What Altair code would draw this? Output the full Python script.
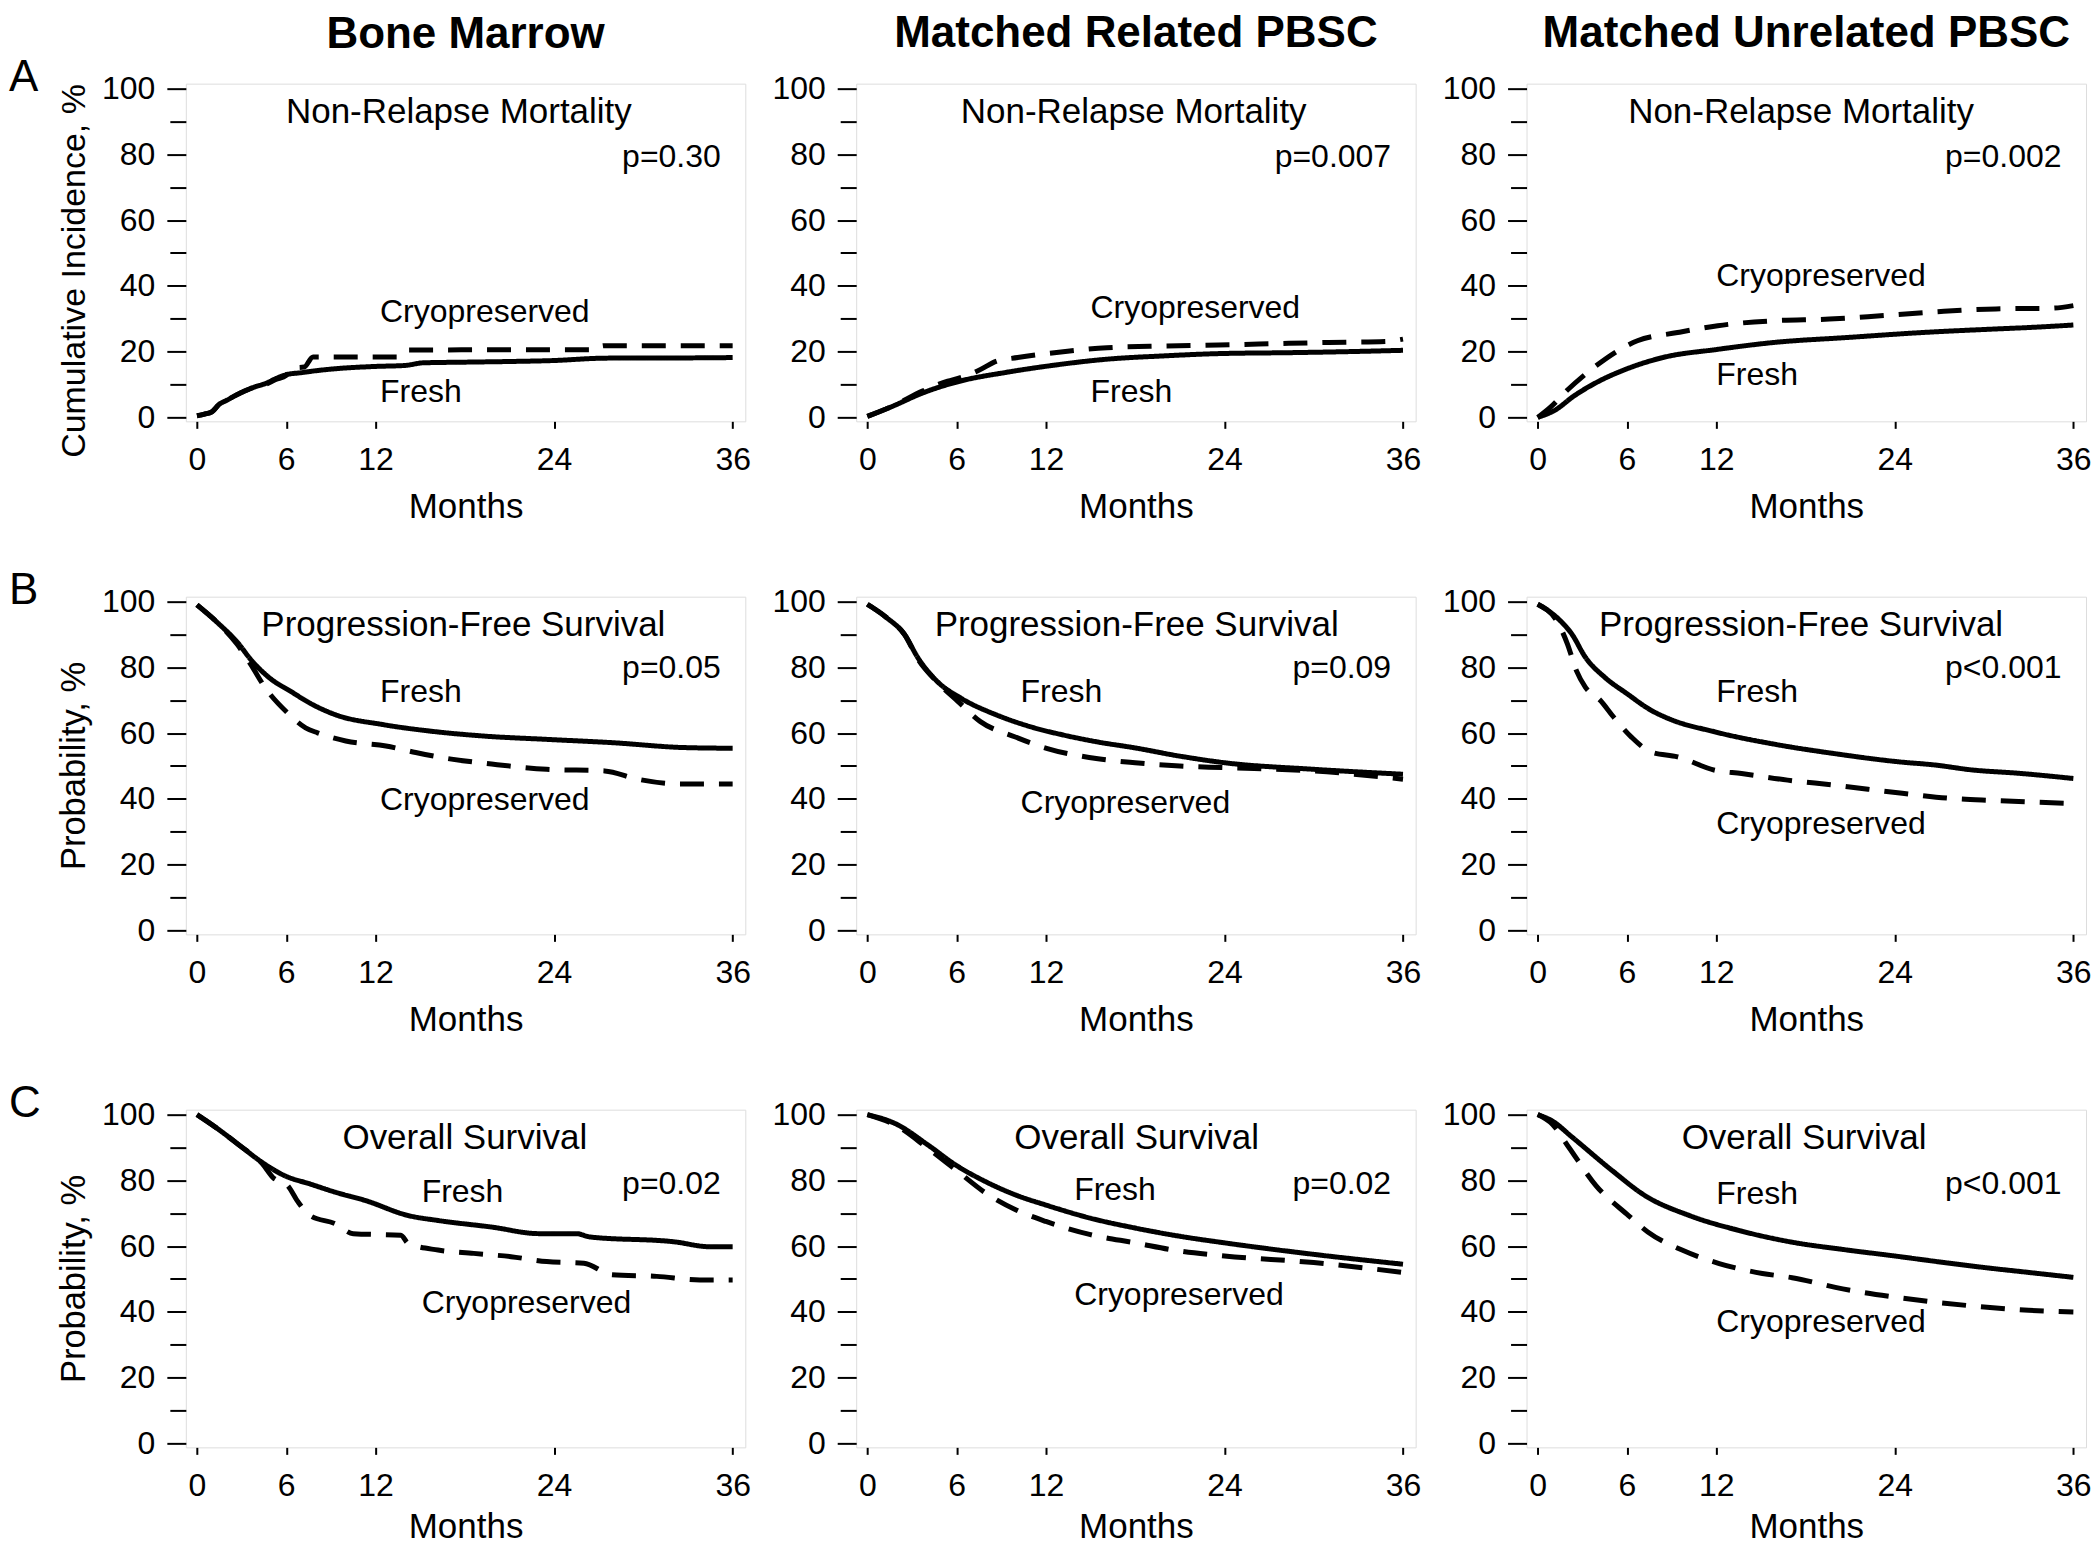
import altair as alt
import pandas as pd

FONT = "Liberation Sans"

COLUMN_TITLES = ["Bone Marrow", "Matched Related PBSC", "Matched Unrelated PBSC"]
ROW_LETTERS = ["A", "B", "C"]
ENDPOINTS = ["Non-Relapse Mortality", "Progression-Free Survival", "Overall Survival"]
Y_TITLES = ["Cumulative Incidence, %", "Probability, %", "Probability, %"]
P_VALUES = [["p=0.30", "p=0.007", "p=0.002"],
            ["p=0.05", "p=0.09", "p<0.001"],
            ["p=0.02", "p=0.02", "p<0.001"]]
GROUPS = ["Fresh", "Cryopreserved"]
X_TICKS = [0, 6, 12, 24, 36]
Y_TICKS = [0, 10, 20, 30, 40, 50, 60, 70, 80, 90, 100]

# ---- curves (months, percent) ----
# Row A: non-relapse mortality (cumulative incidence)
A1_FRESH_M = [0, 0.5, 1, 1.5, 2, 2.6, 3.2, 3.9, 4.6, 5.3, 6, 7, 8, 9.3, 12, 14, 15.2, 18, 21, 24, 27.2, 30, 33, 36]
A1_FRESH_V = [0.5, 1, 1.7, 4, 5.2, 6.7, 8, 9.3, 10.3, 11.8, 13, 13.6, 14.2, 14.8, 15.5, 15.8, 16.6, 16.8, 17, 17.3, 18, 18.1, 18.1, 18.2]
A1_CRYO_M = [0, 0.5, 1, 1.5, 2, 2.6, 3.2, 3.9, 4.6, 5.3, 6, 6.3, 7.2, 7.8, 13.6, 14.2, 26.8, 27.3, 36]
A1_CRYO_V = [0.5, 1, 1.7, 4, 5.2, 6.7, 8, 9.3, 10, 11.5, 12.8, 15, 15.3, 18.4, 18.4, 20.5, 20.6, 21.8, 21.8]

A2_FRESH_M = [0, 1.7, 3.7, 6.2, 9.2, 12.1, 16.1, 19.9, 23.6, 28.6, 32.3, 36]
A2_FRESH_V = [0.3, 3.4, 7.4, 11, 13.6, 15.6, 17.7, 18.7, 19.4, 19.7, 20, 20.4]
A2_CRYO_M = [0, 1.7, 3.7, 5.4, 6.2, 7.4, 8.7, 10.1, 13.6, 16.1, 19.9, 23.6, 27.3, 31, 34.8, 36]
A2_CRYO_V = [0.3, 3.4, 8, 11, 12, 14.1, 17.1, 18.2, 20.2, 21.2, 21.7, 22, 22.4, 22.8, 23.1, 23.8]

A3_FRESH_M = [0, 1.2, 2.4, 3.9, 5.9, 8.4, 12.1, 15.9, 20.8, 25.8, 30.8, 33.3, 36]
A3_FRESH_V = [0, 2.3, 6.4, 10.5, 14.6, 18.2, 20.7, 22.8, 24.3, 25.8, 26.9, 27.4, 28.1]
A3_CRYO_M = [0, 0.9, 1.9, 3.9, 6.7, 9.4, 12.1, 15.9, 19.6, 23.3, 27.1, 30.8, 34.5, 36]
A3_CRYO_V = [0, 3.3, 7.9, 15.6, 23.3, 25.8, 27.9, 29.4, 29.9, 31, 32.2, 33, 33.2, 34]

# Row B: progression-free survival
B1_FRESH_M = [0, 1.45, 2.7, 3.65, 4.9, 6.3, 7.6, 9.3, 12.5, 15.7, 19.3, 23.5, 27.9, 32.8, 36]
B1_FRESH_V = [99, 93.3, 87.7, 82.2, 76.7, 72.7, 69.1, 65.6, 62.6, 60.6, 59.1, 58.1, 57.1, 55.6, 55.4]
B1_CRYO_M = [0, 1.45, 2.7, 3.6, 4.6, 6.1, 7.3, 8.1, 10, 12.7, 14.7, 17.1, 19.8, 23.5, 27.4, 29.6, 32.6, 36]
B1_CRYO_V = [99, 93.3, 87, 81, 73.7, 66.1, 61.6, 60.1, 57.6, 56.1, 54.1, 52.1, 50.6, 49, 48.5, 46, 44.5, 44.5]

B2_FRESH_M = [0, 1.3, 2.5, 3.4, 4.7, 6.3, 8.7, 11, 13.2, 15.5, 18, 21, 24, 30, 36]
B2_FRESH_V = [99.2, 95.1, 90, 82.9, 75.7, 70.6, 65.5, 61.9, 59.4, 57.3, 55.5, 53, 51, 49, 47.5]
B2_CRYO_M = [0, 1.3, 2.5, 3.4, 4.7, 6.1, 7.6, 9.9, 12.1, 15.5, 18, 21, 24, 30, 36]
B2_CRYO_V = [99.2, 95.1, 90, 82.5, 75.5, 69.6, 63.5, 58.9, 55.3, 52.2, 51, 50, 49.5, 48.5, 46]

B3_FRESH_M = [0, 1.4, 2.3, 3.2, 4.5, 6, 7.6, 8.8, 11.9, 16.2, 19.9, 24.2, 26.7, 29.2, 32.3, 36]
B3_FRESH_V = [99.2, 94.7, 90.1, 83.1, 77, 72, 67, 64.4, 60.4, 56.4, 53.8, 51.3, 50.3, 48.8, 47.8, 46.2]
B3_CRYO_M = [0, 1.4, 2, 2.6, 3.2, 4.2, 5.1, 6.3, 7.6, 9.4, 11.9, 13.7, 16.8, 19.9, 24.5, 27.6, 30.7, 36]
B3_CRYO_V = [99.2, 93.2, 87.1, 79, 74, 70, 64.9, 58.8, 54.3, 52.8, 48.7, 47.7, 45.7, 44.2, 41.7, 40.2, 39.5, 38.6]

# Row C: overall survival
C1_FRESH_M = [0, 1.45, 2.9, 4.4, 5.9, 7.6, 9.3, 11.3, 14.2, 16.2, 19.8, 23, 25.5, 26.4, 32.1, 34.5, 36]
C1_FRESH_V = [100, 95.5, 90.5, 85.4, 81.4, 78.9, 76.4, 73.9, 69.3, 67.8, 65.8, 63.8, 63.8, 62.8, 61.3, 59.8, 59.8]
C1_CRYO_M = [0, 1.45, 2.9, 4.4, 5.1, 6.1, 6.8, 7.6, 9.3, 10.5, 13.7, 14.2, 16.2, 18.6, 21.1, 23.5, 26, 27.9, 30.9, 33.8, 36]
C1_CRYO_V = [100, 95.5, 90.5, 85, 80.9, 78.4, 73.4, 69.3, 66.8, 63.8, 63.3, 60.8, 58.8, 57.8, 56.8, 55.3, 54.8, 51.3, 50.8, 49.7, 49.7]

C2_FRESH_M = [0, 2, 4, 6, 8, 10, 12, 15, 18, 21, 24, 30, 36]
C2_FRESH_V = [100, 97, 91, 84.5, 79.5, 75.5, 72.5, 68.5, 65.5, 63, 61, 57.5, 54.5]
C2_CRYO_M = [0, 2, 4, 6, 8, 10, 12, 15, 18, 21, 24, 30, 36]
C2_CRYO_V = [100, 96.5, 90, 83, 76, 71, 67.5, 63.5, 61, 58.5, 57, 55, 52]

C3_FRESH_M = [0, 1, 2.3, 5, 7.2, 10.2, 13.5, 17.1, 20.5, 24, 27, 30, 33, 36]
C3_FRESH_V = [100, 98, 93.2, 83, 75.4, 69.3, 64.8, 61.2, 59, 57, 55.2, 53.5, 52, 50.5]
C3_CRYO_M = [0, 1, 2.1, 3.9, 6.1, 7.4, 9.7, 12.2, 15.1, 17.1, 20.5, 24, 27, 30, 33, 36]
C3_CRYO_V = [100, 97, 90, 78.5, 69.3, 64.3, 58.8, 54.7, 51.7, 50.4, 47, 44.5, 42.8, 41.5, 40.5, 40]

CURVES = [
    [((A1_FRESH_M, A1_FRESH_V), (A1_CRYO_M, A1_CRYO_V)),
     ((A2_FRESH_M, A2_FRESH_V), (A2_CRYO_M, A2_CRYO_V)),
     ((A3_FRESH_M, A3_FRESH_V), (A3_CRYO_M, A3_CRYO_V))],
    [((B1_FRESH_M, B1_FRESH_V), (B1_CRYO_M, B1_CRYO_V)),
     ((B2_FRESH_M, B2_FRESH_V), (B2_CRYO_M, B2_CRYO_V)),
     ((B3_FRESH_M, B3_FRESH_V), (B3_CRYO_M, B3_CRYO_V))],
    [((C1_FRESH_M, C1_FRESH_V), (C1_CRYO_M, C1_CRYO_V)),
     ((C2_FRESH_M, C2_FRESH_V), (C2_CRYO_M, C2_CRYO_V)),
     ((C3_FRESH_M, C3_FRESH_V), (C3_CRYO_M, C3_CRYO_V))],
]

# ---- annotation anchors in data units (month, percent) ----
ENDPOINT_X = [[17.6, 17.9, 17.7], [17.9, 18.1, 17.7], [18.0, 18.1, 17.9]]
ENDPOINT_Y = [93, 93, 93]
P_X = 35.2
P_Y = [79.3, 79.7, 79.0]
GROUP_LABEL_X = [[12.3, 15.0, 12.0], [12.3, 10.3, 12.0], [15.1, 13.9, 12.0]]
FRESH_Y = [[7.8, 7.8, 13.0], [72.4, 72.4, 72.4], [76.6, 77.0, 75.8]]
CRYO_Y = [[32.0, 33.2, 42.9], [39.8, 38.6, 32.5], [42.8, 45.2, 37.0]]

PANEL_W = 560
PANEL_H = 338
X_DOMAIN = [-0.75, 36.85]
Y_DOMAIN = [-1.2, 101.5]
TITLE_OFFSETS = [-36.6, -18.6, -18.6]
Y_TITLE_SIZES = [34, 34.5, 34.5]
X_TITLE_PADDING = [14, 14, 8]


def curve_frame(r, c):
    rows = []
    for g, (months, vals) in zip(GROUPS, CURVES[r][c]):
        for i, (m, v) in enumerate(zip(months, vals)):
            rows.append({"month": m, "value": v, "group": g, "order": i})
    return pd.DataFrame(rows)


def panel(r, c):
    x_axis = alt.Axis(values=X_TICKS, title="Months", grid=False, domain=False,
                      tickSize=7, tickWidth=2, tickColor="black",
                      labelFontSize=32, labelPadding=16, labelFlush=False,
                      labelOverlap=False, titleFontSize=35, titleFontWeight="normal",
                      titlePadding=X_TITLE_PADDING[r])
    y_kwargs = dict(values=Y_TICKS, grid=False, domain=False,
                    tickSize={"condition": {"test": "datum.value % 20 == 0", "value": 19}, "value": 16},
                    tickWidth=2, tickColor="black",
                    labelExpr="datum.value % 20 == 0 ? datum.label : ''",
                    labelFontSize=32, labelPadding=12, labelFlush=False,
                    labelOverlap=False, titleFontSize=Y_TITLE_SIZES[r], titleFontWeight="normal",
                    titlePadding=10)
    if c == 0:
        y_kwargs["title"] = Y_TITLES[r]
        if r == 0:
            y_kwargs["titleY"] = 187
        y_enc = alt.Y("value:Q", scale=alt.Scale(domain=Y_DOMAIN, nice=False, zero=False),
                      axis=alt.Axis(**y_kwargs))
    else:
        y_enc = alt.Y("value:Q", scale=alt.Scale(domain=Y_DOMAIN, nice=False, zero=False),
                      axis=alt.Axis(**y_kwargs), title=None)
    x_enc = alt.X("month:Q", scale=alt.Scale(domain=X_DOMAIN, nice=False, zero=False),
                  axis=x_axis)

    lines = alt.Chart(curve_frame(r, c)).mark_line(
        color="black", strokeWidth=5, interpolate="monotone", strokeCap="butt"
    ).encode(
        x=x_enc, y=y_enc,
        strokeDash=alt.StrokeDash("group:N", scale=alt.Scale(domain=GROUPS, range=[[1, 0], [24, 15]]),
                                  legend=None),
        detail="group:N",
        order="order:Q",
    )

    title_df = pd.DataFrame({"month": [ENDPOINT_X[r][c]], "value": [ENDPOINT_Y[r]], "label": [ENDPOINTS[r]]})
    p_df = pd.DataFrame({"month": [P_X], "value": [P_Y[r]], "label": [P_VALUES[r][c]]})
    grp_df = pd.DataFrame({"month": [GROUP_LABEL_X[r][c]] * 2,
                           "value": [FRESH_Y[r][c], CRYO_Y[r][c]],
                           "label": GROUPS})

    t1 = alt.Chart(title_df).mark_text(fontSize=35, align="center", baseline="middle", color="black").encode(
        x=x_enc, y=y_enc, text="label:N")
    t2 = alt.Chart(p_df).mark_text(fontSize=32, align="right", baseline="middle", color="black").encode(
        x=x_enc, y=y_enc, text="label:N")
    t3 = alt.Chart(grp_df).mark_text(fontSize=32, align="left", baseline="middle", color="black").encode(
        x=x_enc, y=y_enc, text="label:N")

    layers = [lines, t1, t2, t3]
    if c == 0:
        letter = alt.Chart(pd.DataFrame({"label": [ROW_LETTERS[r]]})).mark_text(
            fontSize=44, align="left", baseline="alphabetic", color="black"
        ).encode(x=alt.value(-177), y=alt.value(7), text="label:N")
        layers.append(letter)

    ch = alt.layer(*layers).properties(width=PANEL_W, height=PANEL_H)
    if r == 0:
        ch = ch.properties(title=alt.TitleParams(
            text=COLUMN_TITLES[c], fontSize=44, fontWeight="bold", anchor="middle",
            frame="group", baseline="alphabetic", offset=TITLE_OFFSETS[c], color="black"))
    return ch


panels = [panel(r, c) for r in range(3) for c in range(3)]

chart = alt.concat(*panels, columns=3, spacing={"row": 175.5, "column": 111}, bounds="flush").properties(
    padding={"left": 0, "top": 3, "right": 0, "bottom": 0}
).configure_view(
    stroke="black", strokeWidth=2
).configure_axis(
    labelFont=FONT, titleFont=FONT, labelColor="black", titleColor="black"
).configure_text(
    font=FONT
).configure_title(
    font=FONT
).configure(background="white")

chart.save("out.html", embed_options={"renderer": "svg", "actions": False})
